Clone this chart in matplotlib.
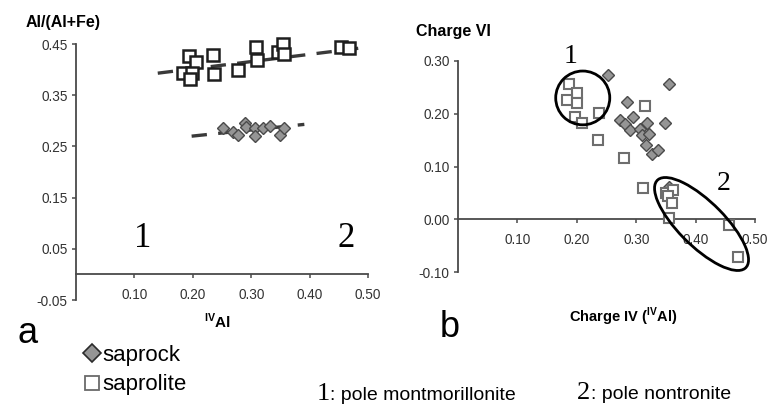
import matplotlib

matplotlib.use("Agg")
import matplotlib.pyplot as plt
from matplotlib.patches import Ellipse

plt.rcParams["font.family"] = ["Liberation Sans", "DejaVu Sans"]
plt.rcParams["axes.unicode_minus"] = False

# panel a: Al/(Al+Fe) vs IV-Al
a_saprolite_x = [0.194, 0.206, 0.183, 0.198, 0.196, 0.234, 0.236, 0.277, 0.309, 0.310,
                 0.346, 0.354, 0.356, 0.454, 0.468]
a_saprolite_y = [0.426, 0.414, 0.393, 0.394, 0.381, 0.428, 0.391, 0.400, 0.445, 0.419,
                 0.435, 0.450, 0.430, 0.445, 0.442]
a_saprock_x = [0.251, 0.269, 0.277, 0.289, 0.291, 0.306, 0.306, 0.320, 0.333, 0.349, 0.357]
a_saprock_y = [0.285, 0.278, 0.272, 0.295, 0.287, 0.285, 0.270, 0.285, 0.290, 0.272, 0.285]
a_saprolite_trend_x = [0.140, 0.486]
a_saprolite_trend_y = [0.393, 0.442]
a_saprock_trend_x = [0.198, 0.391]
a_saprock_trend_y = [0.270, 0.293]
a_xticks = [0.10, 0.20, 0.30, 0.40, 0.50]
a_yticks = [-0.05, 0.05, 0.15, 0.25, 0.35, 0.45]

# panel b: Charge VI vs Charge IV
b_saprock_x = [0.253, 0.356, 0.285, 0.272, 0.281, 0.294, 0.290, 0.306, 0.319, 0.309,
               0.322, 0.316, 0.326, 0.336, 0.349, 0.355]
b_saprock_y = [0.273, 0.256, 0.223, 0.188, 0.181, 0.193, 0.170, 0.172, 0.183, 0.160,
               0.162, 0.141, 0.123, 0.131, 0.183, 0.062]
b_saprolite_x = [0.187, 0.200, 0.183, 0.200, 0.197, 0.208, 0.238, 0.236, 0.315, 0.279,
                 0.312, 0.351, 0.362, 0.354, 0.360, 0.356, 0.457, 0.472]
b_saprolite_y = [0.256, 0.239, 0.226, 0.221, 0.193, 0.182, 0.202, 0.150, 0.215, 0.117,
                 0.060, 0.049, 0.055, 0.044, 0.030, 0.002, -0.011, -0.071]
b_xticks = [0.10, 0.20, 0.30, 0.40, 0.50]
b_yticks = [-0.10, 0.00, 0.10, 0.20, 0.30]

W, H = 767, 404

DIAMOND_FACE = "#959595"
DIAMOND_EDGE = "#4a4a4a"
AXIS_COLOR = "#4a4a4a"
TICK_COLOR = "#333333"


def fx(px):
    return px / W


def fy(py):
    return 1.0 - py / H


def style_axes(ax, xticks, yticks):
    for side in ("top", "right"):
        ax.spines[side].set_visible(False)
    ax.spines["bottom"].set_position(("data", 0.0))
    for side in ("bottom", "left"):
        ax.spines[side].set_color(AXIS_COLOR)
        ax.spines[side].set_linewidth(1.3)
    ax.set_xticks(xticks)
    ax.set_yticks(yticks)
    ax.set_xticklabels([f"{v:.2f}" for v in xticks])
    ax.set_yticklabels([f"{v:.2f}" for v in yticks])
    ax.tick_params(direction="out", length=3, width=1.1, color=AXIS_COLOR,
                   labelsize=9.8, labelcolor=TICK_COLOR)
    ax.tick_params(axis="x", pad=7)
    ax.tick_params(axis="y", pad=3)
    ax.patch.set_alpha(0)


fig = plt.figure(figsize=(W / 100, H / 100), dpi=100)

# ---- panel a
ax_a = fig.add_axes([fx(76), fy(300), (368 - 76) / W, (300 - 44) / H])
ax_a.set_xlim(0, 0.5)
ax_a.set_ylim(-0.05, 0.45)
style_axes(ax_a, a_xticks, a_yticks)

ax_a.plot(a_saprolite_trend_x, a_saprolite_trend_y, color="#3a3a3a", lw=2.4,
          dashes=(4.6, 3.4), zorder=2)
ax_a.plot(a_saprock_trend_x, a_saprock_trend_y, color="#3a3a3a", lw=2.4,
          dashes=(4.6, 3.4), zorder=2)
ax_a.plot(a_saprolite_x, a_saprolite_y, ls="none", marker="s", ms=8.5, mfc="white",
          mec="#1e1e1e", mew=1.8, clip_on=False, zorder=3)
ax_a.plot(a_saprock_x, a_saprock_y, ls="none", marker="D", ms=6.5, mfc=DIAMOND_FACE,
          mec=DIAMOND_EDGE, mew=1.0, clip_on=False, zorder=3)

ax_a.text(0.114, 0.0705, "1", family="Liberation Serif", fontsize=25,
          ha="center", va="center")
ax_a.text(0.463, 0.0705, "2", family="Liberation Serif", fontsize=25,
          ha="center", va="center")

fig.text(fx(63), fy(26.7), "Al/(Al+Fe)", fontsize=11.5, fontweight="bold",
         ha="center", va="baseline")
fig.text(fx(217), fy(328), r"$^{\mathregular{IV}}$Al", fontsize=11, fontweight="bold",
         ha="center", va="baseline")
fig.text(fx(28), fy(343), "a", fontsize=26, ha="center", va="baseline")

# ---- panel b
ax_b = fig.add_axes([fx(458), fy(272), (755 - 458) / W, (272 - 61) / H])
ax_b.set_xlim(0, 0.5)
ax_b.set_ylim(-0.10, 0.30)
style_axes(ax_b, b_xticks, b_yticks)

ax_b.plot(b_saprock_x, b_saprock_y, ls="none", marker="D", ms=6.2, mfc=DIAMOND_FACE,
          mec=DIAMOND_EDGE, mew=1.0, clip_on=False, zorder=3)
ax_b.plot(b_saprolite_x, b_saprolite_y, ls="none", marker="s", ms=7.5, mfc="white",
          mec="#6e6e6e", mew=1.5, clip_on=False, zorder=4)

ax_b.add_patch(Ellipse((0.210, 0.230), 0.091, 0.102, fill=False, ec="black",
                       lw=2.0, zorder=5))
ax_b.add_patch(Ellipse((0.410, -0.009), 0.223, 0.080, angle=-49, fill=False,
                       ec="black", lw=2.0, zorder=5, clip_on=False))

ax_b.text(0.189, 0.3076, "1", family="Liberation Serif", fontsize=20,
          ha="center", va="center")
ax_b.text(0.447, 0.068, "2", family="Liberation Serif", fontsize=20,
          ha="center", va="center")

fig.text(fx(453), fy(36), "Charge VI", fontsize=11.5, fontweight="bold",
         ha="center", va="baseline")
fig.text(fx(623), fy(321.5), r"Charge IV ($^{\mathregular{IV}}$Al)", fontsize=10.5,
         fontweight="bold", ha="center", va="baseline")
fig.text(fx(450), fy(336.7), "b", fontsize=26, ha="center", va="baseline")

# ---- legend
h_rock, = ax_a.plot([], [], ls="none", marker="D", ms=9, mfc=DIAMOND_FACE,
                    mec="#2a2a2a", mew=1.2)
h_lite, = ax_a.plot([], [], ls="none", marker="s", ms=9.5, mfc="white",
                    mec="#6a6a6a", mew=1.3)
fig.legend([h_rock, h_lite], ["saprock", "saprolite"], loc="upper left",
           bbox_to_anchor=(fx(84), fy(345)), frameon=False, fontsize=16,
           handlelength=0.7, handletextpad=0.12, labelspacing=0.38,
           borderpad=0, borderaxespad=0)

# ---- pole notes
fig.text(fx(317), fy(400), "1", family="Liberation Serif", fontsize=19,
         ha="left", va="baseline")
fig.text(fx(330), fy(400), ": pole montmorillonite", fontsize=14,
         ha="left", va="baseline")
fig.text(fx(577), fy(399), "2", family="Liberation Serif", fontsize=19,
         ha="left", va="baseline")
fig.text(fx(591), fy(399), ": pole nontronite", fontsize=14,
         ha="left", va="baseline")

fig.savefig("out.png", dpi=100)
